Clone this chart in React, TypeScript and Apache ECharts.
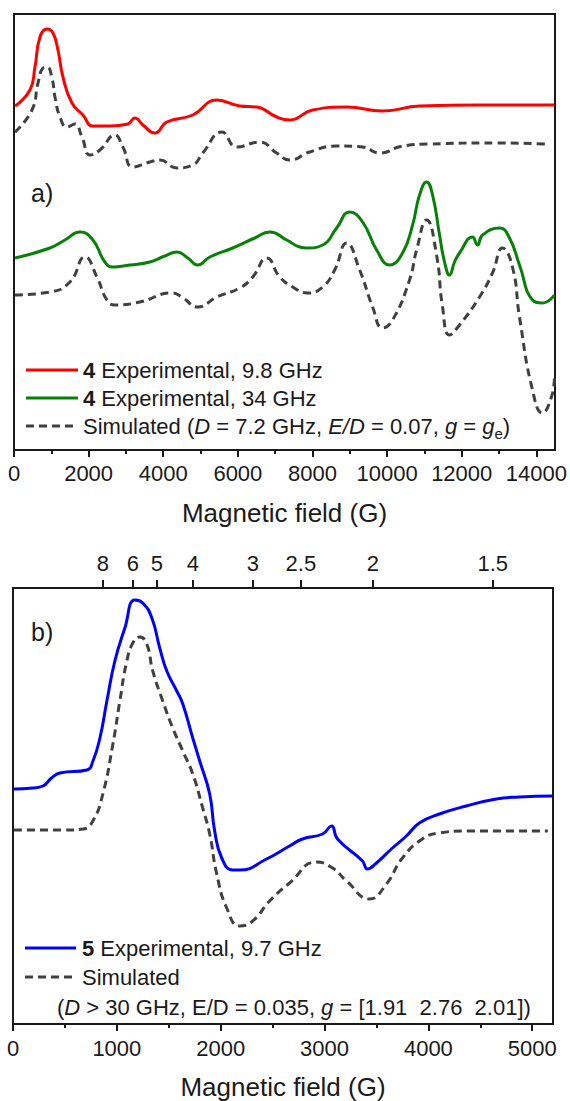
import React, { useEffect, useRef } from "react";
import * as echarts from "echarts";

// ---------- Panel a) data (field in G, intensity in arbitrary units) ----------
const redField = [27, 428, 562, 696, 884, 1044, 1178, 1312, 1553, 1847, 2115, 2570, 3052, 3240, 3454, 3775, 4096, 4792, 5435, 6051, 6506, 7041, 7390, 8005, 8916, 9880, 10870, 12476, 14485];
const redIntensity = [344, 360, 383, 413, 421, 417, 400, 373, 347, 335, 324, 324, 326, 332, 325, 317, 328, 335, 350, 344, 343, 333, 330, 340, 343, 339, 344, 345, 345];

const simXField = [27, 482, 643, 777, 884, 1018, 1098, 1232, 1419, 1633, 1821, 2035, 2303, 2704, 2918, 3186, 3641, 3909, 4364, 4792, 5060, 5569, 5971, 6586, 7041, 7390, 7925, 8648, 9344, 9799, 10415, 11138, 12932, 14297];
const simXIntensity = [318, 340, 367, 382, 383, 372, 353, 333, 323, 326, 313, 295, 300, 315, 303, 283, 288, 290, 282, 285, 297, 318, 303, 308, 297, 290, 298, 304, 303, 297, 304, 306, 307, 306];

const greenField = [27, 964, 1365, 1767, 2115, 2436, 2651, 3106, 3641, 4043, 4364, 4659, 4926, 5248, 5863, 6452, 6854, 7309, 7657, 7845, 8273, 8648, 8996, 9344, 9719, 10067, 10415, 10683, 10870, 11058, 11218, 11406, 11540, 11673, 11807, 11941, 12289, 12423, 12557, 13012, 13280, 13548, 13896, 14163, 14485];
const greenIntensity = [192, 202, 210, 218, 210, 188, 183, 185, 188, 194, 198, 192, 185, 193, 202, 212, 218, 210, 203, 202, 205, 222, 238, 228, 200, 185, 197, 225, 255, 268, 255, 215, 188, 175, 188, 197, 213, 205, 215, 222, 212, 185, 150, 147, 155];

const simQField = [27, 964, 1499, 1901, 2222, 2490, 2704, 3373, 4230, 4498, 4926, 5435, 6051, 6399, 6774, 7122, 7470, 7871, 8273, 8594, 8916, 9264, 9612, 9880, 10147, 10602, 10790, 11058, 11325, 11486, 11673, 11941, 12477, 12824, 13092, 13360, 13548, 13896, 14163, 14404, 14485];
const simQIntensity = [155, 158, 168, 193, 173, 150, 145, 148, 157, 153, 143, 153, 162, 173, 192, 173, 163, 157, 163, 180, 207, 180, 143, 122, 130, 170, 200, 230, 195, 143, 115, 125, 153, 177, 202, 183, 133, 60, 37, 53, 72];

// ---------- Panel b) data ----------
const blueField = [10, 192, 288, 370, 452, 712, 770, 837, 904, 981, 1077, 1173, 1250, 1337, 1413, 1481, 1577, 1635, 1731, 1798, 1894, 1942, 2010, 2115, 2183, 2442, 2663, 2788, 2981, 3067, 3125, 3365, 3413, 3500, 3654, 3788, 3913, 4106, 4365, 4654, 4875, 5192];
const blueIntensity = [235, 236, 238, 246, 251, 254, 263, 286, 323, 363, 396, 424, 421, 406, 376, 353, 333, 320, 286, 263, 230, 193, 166, 154, 154, 165, 178, 185, 190, 198, 185, 163, 155, 161, 176, 188, 201, 210, 218, 225, 227, 228];

const simBField = [10, 500, 673, 769, 865, 962, 1029, 1096, 1154, 1221, 1288, 1346, 1442, 1538, 1635, 1731, 1827, 1894, 1962, 2058, 2183, 2308, 2471, 2663, 2923, 3077, 3212, 3433, 3596, 3750, 3942, 4106, 4365, 5150];
const simBIntensity = [194, 194, 195, 203, 230, 280, 323, 363, 381, 387, 380, 353, 323, 296, 273, 250, 216, 190, 150, 116, 98, 103, 123, 141, 162, 156, 143, 125, 140, 166, 185, 191, 193, 193];

// ---------- Axis ticks ----------
const topMajorTicks = [0, 2000, 4000, 6000, 8000, 10000, 12000, 14000];
const topMinorTicks = [1000, 3000, 5000, 7000, 9000, 11000, 13000];
const botMajorTicks = [0, 1000, 2000, 3000, 4000, 5000];
const botMinorTicks = [500, 1500, 2500, 3500, 4500];
const gTicks = [8, 6, 5, 4, 3, 2.5, 2, 1.5];
const FIELD_PER_GHZ = 714.48; // B (G) = 714.48 * nu(GHz) / g
const FREQ_B = 9.7;
const gTickFields = gTicks.map((g) => (FIELD_PER_GHZ * FREQ_B) / g);

const FONT = "'Liberation Sans', Arial, Helvetica, sans-serif";
const INK = "#1a1a1a";
const SIM = "#404040";

const zip = (xs: number[], ys: number[]) => xs.map((x, i) => [x, ys[i]]);

export default function App() {
  const ref = useRef<HTMLDivElement>(null);

  useEffect(() => {
    if (!ref.current) return;
    const chart = echarts.init(ref.current, null, { renderer: "svg" });

    const axisLineStyle = { color: INK, width: 2 };
    const labelStyle = { fontSize: 22, color: INK, fontFamily: FONT };

    const majorAxis = (gridIndex: number, max: number, ticks: number[], margin: number) => ({
      type: "value",
      gridIndex,
      position: "bottom",
      min: 0,
      max,
      axisLine: { show: true, onZero: false, lineStyle: axisLineStyle },
      axisTick: { show: true, customValues: ticks, length: 7, lineStyle: axisLineStyle },
      axisLabel: { show: true, customValues: ticks, margin, ...labelStyle, formatter: (v: number) => String(v) },
      splitLine: { show: false },
      name: "Magnetic field (G)",
      nameLocation: "middle",
      nameGap: 50,
      nameTextStyle: { fontSize: 26, color: INK, fontFamily: FONT },
    });

    const minorAxis = (gridIndex: number, max: number, ticks: number[]) => ({
      type: "value",
      gridIndex,
      position: "bottom",
      min: 0,
      max,
      axisLine: { show: false, onZero: false },
      axisTick: { show: true, customValues: ticks, length: 4, lineStyle: axisLineStyle },
      axisLabel: { show: false },
      splitLine: { show: false },
    });

    const rich = () => ({
      n: { fontSize: 22, lineHeight: 30, fontFamily: FONT, color: INK },
      b: { fontSize: 22, lineHeight: 30, fontFamily: FONT, color: INK, fontWeight: "bold" },
      i: { fontSize: 22, lineHeight: 30, fontFamily: FONT, color: INK, fontStyle: "italic" },
      sub: { fontSize: 15, lineHeight: 17, fontFamily: FONT, color: INK, verticalAlign: "bottom" },
    });

    const legendLine = (x1: number, x2: number, y: number, color: string, dashed: boolean) => ({
      type: "line",
      shape: { x1, y1: y, x2, y2: y },
      style: { stroke: color, lineWidth: 3, lineDash: dashed ? [8, 5] : null },
      silent: true,
    });

    const legendText = (x: number, y: number, text: string) => ({
      type: "text",
      x,
      y,
      style: {
        text,
        rich: rich(),
        fontSize: 22,
        fontFamily: FONT,
        fill: INK,
        verticalAlign: "middle",
        align: "left",
      },
      silent: true,
    });

    const lineSeries = (name: string, data: number[][], color: string, dashed: boolean, xAxisIndex: number, yAxisIndex: number) => ({
      type: "line",
      name,
      data,
      xAxisIndex,
      yAxisIndex,
      showSymbol: false,
      symbol: "none",
      smooth: 0.5,
      lineStyle: { color, width: 3, type: dashed ? [8, 5] : "solid" },
      z: dashed ? 2 : 3,
    });

    chart.setOption({
      animation: false,
      backgroundColor: "#ffffff",
      grid: [
        { left: 14, top: 14, width: 541, height: 436, show: true, borderColor: INK, borderWidth: 2, backgroundColor: "transparent" },
        { left: 13, top: 588, width: 540, height: 436, show: true, borderColor: INK, borderWidth: 2, backgroundColor: "transparent" },
      ],
      xAxis: [
        majorAxis(0, 14500, topMajorTicks, 12),
        minorAxis(0, 14500, topMinorTicks),
        majorAxis(1, 5200, botMajorTicks, 13),
        minorAxis(1, 5200, botMinorTicks),
        {
          type: "value",
          gridIndex: 1,
          position: "top",
          min: 0,
          max: 5200,
          axisLine: { show: true, onZero: false, lineStyle: axisLineStyle },
          axisTick: { show: true, customValues: gTickFields, length: 8, lineStyle: axisLineStyle },
          axisLabel: {
            show: true,
            customValues: gTickFields,
            margin: 14,
            ...labelStyle,
            formatter: (v: number) => String(Math.round(((FIELD_PER_GHZ * FREQ_B) / v) * 10) / 10),
          },
          splitLine: { show: false },
        },
      ],
      yAxis: [
        { type: "value", gridIndex: 0, min: 0, max: 436, show: false },
        { type: "value", gridIndex: 1, min: 0, max: 436, show: false },
      ],
      series: [
        lineSeries("4 Experimental, 9.8 GHz", zip(redField, redIntensity), "#ff0000", false, 0, 0),
        lineSeries("Simulated 9.8 GHz", zip(simXField, simXIntensity), SIM, true, 0, 0),
        lineSeries("4 Experimental, 34 GHz", zip(greenField, greenIntensity), "#068006", false, 0, 0),
        lineSeries("Simulated 34 GHz", zip(simQField, simQIntensity), SIM, true, 0, 0),
        lineSeries("5 Experimental, 9.7 GHz", zip(blueField, blueIntensity), "#0000ff", false, 2, 1),
        lineSeries("Simulated", zip(simBField, simBIntensity), SIM, true, 2, 1),
      ],
      graphic: [
        { type: "text", x: 31, y: 193, style: { text: "a)", fontSize: 25, fontFamily: FONT, fill: INK, verticalAlign: "middle" } },
        { type: "text", x: 31, y: 632, style: { text: "b)", fontSize: 25, fontFamily: FONT, fill: INK, verticalAlign: "middle" } },

        legendLine(26, 78, 370, "#ff0000", false),
        legendText(83, 370, "{b|4}{n| Experimental, 9.8 GHz}"),
        legendLine(26, 78, 398, "#068006", false),
        legendText(83, 398, "{b|4}{n| Experimental, 34 GHz}"),
        legendLine(26, 78, 426, SIM, true),
        legendText(83, 426, "{n|Simulated (}{i|D}{n| = 7.2 GHz, }{i|E/D}{n| = 0.07, }{i|g}{n| = }{i|g}{sub|e}{n|)}"),

        legendLine(25, 76, 948, "#0000ff", false),
        legendText(82, 948, "{b|5}{n| Experimental, 9.7 GHz}"),
        legendLine(25, 76, 977, SIM, true),
        legendText(82, 977, "{n|Simulated}"),
        legendText(57, 1007, "{n|(}{i|D}{n| > 30 GHz, E/D = 0.035, }{i|g}{n| = [1.91  2.76  2.01])}"),
      ],
    });

    return () => chart.dispose();
  }, []);

  return (
    <div
      ref={ref}
      style={{ position: "absolute", left: 0, top: 0, width: 570, height: 1101 }}
    />
  );
}
